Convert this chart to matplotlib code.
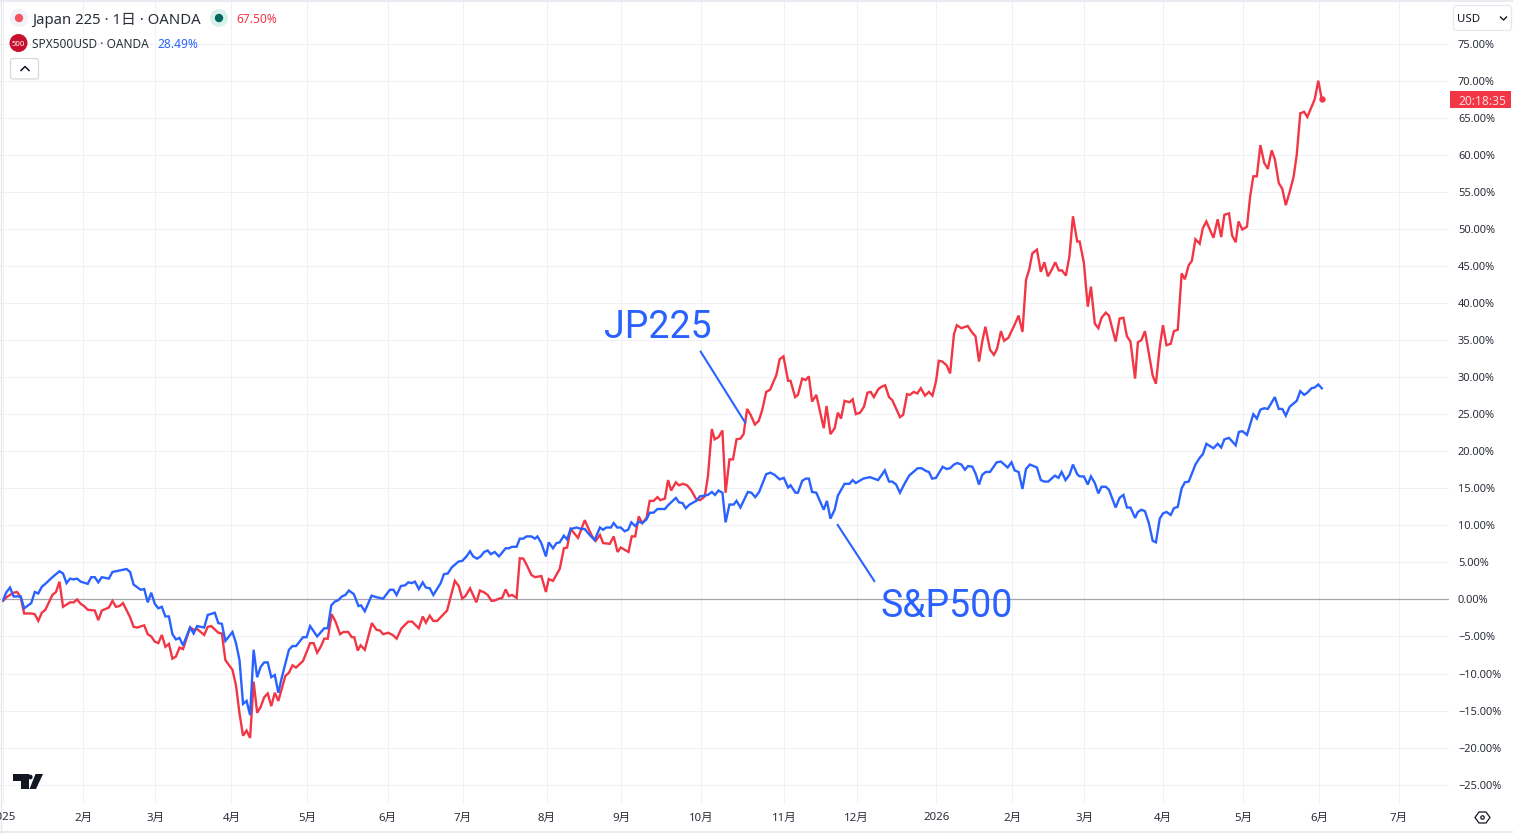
import matplotlib
matplotlib.use("Agg")
import matplotlib.pyplot as plt
from matplotlib.patches import Circle, FancyBboxPatch, Polygon, Rectangle

W, H = 1513, 834
RED = "#f23645"
BLUE = "#2962ff"
INK = "#131722"
GRID = "#f0f1f4"
FONT = ["Noto Sans", "Noto Sans CJK JP", "DejaVu Sans"]

# Return since the first session, in percent, against the session index.
spx_x = [0,1,2,3,5,6,8,9,10,11, 12,14,16,17,18,19,20,21,22,24,
         25,26,27,28,30,31,32,35,36,37, 39,40,41,42,43,44,45,46,47,48,
         49,50,51,53,54,55,57,58,60,61, 62,63,65,66,67,68,69,70,71,72,
         73,74,75,76,77,78,79,81,82,83, 85,86,87,89,91,92,93,94,95,96,
         97,98,
         99.4,100.7,101.4,102.5,104.4,105.8,107.7,109.6,110.6,111.5,
         112.7,113.9,114.8,115.8,116.7,117.8,118.9,119.8,120.9,121.9,
         124.0,124.9,126.0,127.1,129.0,130.1,131.3,132.3,133.2,134.3,
         135.3,136.3,137.3,138.2,139.3,140.5,142.4,143.3,144.2,145.5,
         146.4,147.4,148.3,149.7,150.7,151.4,152.5,153.8,154.6,155.8,
         156.8,157.7,158.9,159.8,160.8,162.5,163.9,164.8,166.0,167.6,
         169.1,170.0,170.9,172.2,173.0,174.0,175.0,176.1,177.1,178.0,
         179.1,180.1,181.1,182.3,183.2,184.3,185.4,187.5,188.4,190.6,
         191.5,192.5,193.4,194.5,196.4,197.4,199.7,200.8,201.7,202.7,
         203.8,204.7,205.8,207.0,207.8,208.9,211.0,212.0,213.1,214.2,
         216.2,217.4,218.6,220.0,221.2,222.4,223.1,224.5,225.2,226.4,
         227.4,228.3,229.2,230.4,232.5,233.4,234.4,235.6,236.5,238.4,
         239.8,240.7,241.6,243.7,245.6,247.9,249.8,251.0,251.9,253.0,
         254.1,255.5,256.7,257.9,259.1,260.2,261.6,262.3,263.2,264.3,
         266.2,267.3,268.3,269.4,270.3,271.5,272.5,273.4,274.6,275.5,
         276.5,277.4,278.4,279.6,281.5,282.7,284.6,285.7,286.6,287.7,
         288.8,289.8,290.9,292.9,294.0,295.0,296.1,298.0,299.0,299.9,
         301.0,302.1,303.1,304.3,305.0,306.2,307.3,308.2,309.3,310.3,
         311.2,312.4,313.3,315.2,316.3,317.4,318.4,319.4,320.7,321.5,
         322.5,323.5,324.6,325.7,326.6,327.7,328.6,329.6,330.8,331.7,
         332.8,333.9,334.8,335.9,337.8,339.0,339.9,340.9,342.9,344.1,
         345.1,346.0,347.3,349.2,350.1,351.1,352.4,354.2,355.2,356.2,
         357.3,358.3,360.3,361.4,362.4,363.4,364.5,366.5,367.5,368.6,
         369.5,370.7,371.6,372.6,373.6]
spx_v = [-0.1,1.0,1.6,0.4,0.4,-1.2,-0.5,1.0,0.8,1.7, 2.1,3.0,3.8,3.5,2.2,2.8,2.7,2.8,2.4,2.1,
         3.0,3.0,2.3,3.0,2.8,3.7,3.8,4.1,3.7,2.0, 1.3,1.4,-0.4,0.9,-0.6,-1.2,-1.0,-2.3,-2.3,-4.7,
         -5.4,-5.2,-6.2,-3.8,-4.6,-3.6,-3.8,-2.1,-1.8,-3.2, -3.3,-5.6,-4.4,-5.9,-8.2,-14.1,-13.7,-15.6,-6.8,-10.5,
         -9.1,-8.5,-8.5,-10.5,-10.2,-12.6,-10.5,-6.8,-6.3,-6.3, -5.1,-5.1,-3.6,-5.0,-3.9,-3.9,-0.8,-0.3,-0.1,0.4,
         0.6,1.2,
         0.7,-0.9,-0.8,-1.6,0.5,0.3,0.1,1.3,1.3,0.6,
         1.8,1.9,2.3,2.2,2.4,1.4,2.3,1.6,1.5,0.6,
         2.2,3.4,3.5,4.3,5.1,5.2,5.8,6.5,5.8,5.5,
         5.8,6.4,6.6,6.1,6.4,5.8,6.9,6.9,7.1,7.1,
         8.2,8.2,8.5,8.5,8.2,8.5,7.6,5.8,7.7,6.9,
         7.6,7.7,8.6,8.1,9.5,9.7,9.5,9.5,8.8,8.0,
         9.7,9.4,9.7,9.7,10.3,9.7,9.7,9.2,9.4,10.4,
         9.9,10.5,10.3,10.8,11.7,11.7,12.2,12.2,12.7,13.7,
         13.1,13.0,12.3,12.8,13.3,13.9,14.1,14.5,14.1,14.7,
         14.4,10.4,12.8,12.8,13.3,12.4,14.5,14.4,13.8,14.5,
         16.9,17.1,16.8,16.2,16.4,15.1,15.4,14.4,14.4,16.0,
         16.3,16.3,14.5,14.4,12.1,13.3,10.9,12.1,14.0,15.6,
         15.6,16.1,15.7,16.3,16.5,16.1,17.4,15.9,15.9,15.5,
         14.4,15.7,16.7,17.2,17.7,17.7,17.3,17.2,16.3,16.4,
         17.9,17.6,17.7,18.2,18.4,18.2,17.5,18.0,17.9,17.0,
         15.5,16.8,17.2,17.2,18.5,18.6,17.8,18.5,17.4,17.2,
         14.9,17.6,18.2,17.8,16.1,15.9,15.9,16.7,16.4,17.2,
         16.1,16.8,18.2,16.9,16.6,16.6,15.5,16.6,15.7,14.3,
         15.2,15.2,14.8,12.4,13.7,14.1,12.4,12.4,11.0,11.8,
         12.1,11.9,10.3,7.9,7.7,10.9,11.6,11.8,11.4,12.3,
         12.5,15.0,15.8,15.9,18.2,19.1,19.6,21.0,20.4,21.0,
         20.5,21.6,21.8,20.8,22.6,22.7,22.2,25.0,24.4,25.6,
         25.8,25.7,27.3,25.7,25.7,24.8,26.0,26.8,28.1,27.6,
         27.9,28.5,28.6,29.0,28.49]

jp_x = [0,1,3,4,5,6,8,9,10,11, 12,14,15,16,17,19,20,21,22,23,
        24,26,27,28,30,31,32,33,34,36, 37,38,40,41,42,43,44,45,46,47,
        48,49,50,51,53,54,55,57,58,59, 61,62,63,65,66,67,68,69,70,71,
        72,73,74,75,76,77,78,79,80,81, 82,83,85,86,87,88,89,90,91,92,
        93.1,94.2,95.5,96.4,97.8,98.8,99.5,100.5,101.3,102.5,
        104.5,105.8,106.8,107.7,109.1,110.4,111.5,112.9,114.8,115.9,
        117.8,118.9,119.8,120.9,121.9,123.0,125.8,128.0,129.1,130.1,
        131.0,132.3,134.1,135.1,136.3,137.3,138.4,139.3,140.5,141.4,
        142.4,143.3,144.2,145.5,146.4,147.4,148.3,149.7,150.7,152.5,
        153.8,154.6,155.8,157.7,158.9,159.8,160.8,162.9,164.8,166.0,
        166.9,167.9,169.1,170.0,171.9,173.0,174.1,175.0,177.2,178.1,
        179.1,180.1,181.1,182.3,183.2,184.3,185.4,186.2,187.5,188.4,
        189.3,190.6,191.5,192.6,193.8,195.0,196.4,197.5,198.8,199.7,
        200.8,201.6,202.7,203.8,204.7,205.8,206.8,207.8,208.9,209.8,
        210.8,211.8,213.0,214.1,215.1,216.2,217.3,219.1,220.0,221.1,
        222.4,223.1,224.4,225.2,226.4,227.4,228.3,229.2,230.4,232.5,
        233.3,234.4,235.6,236.5,237.4,238.4,239.8,240.7,241.6,242.8,
        243.9,244.9,245.8,246.7,248.0,248.9,249.9,251.0,251.9,254.1,
        255.0,256.1,256.9,258.0,259.0,260.0,261.2,262.3,263.3,264.3,
        265.1,266.1,267.3,268.3,269.4,270.2,271.5,273.3,274.4,275.5,
        276.5,277.4,278.3,279.6,280.7,281.6,282.7,283.6,284.8,286.6,
        287.7,288.8,289.8,290.7,291.6,292.9,294.0,295.0,296.0,297.0,
        298.1,299.1,300.0,301.1,302.1,303.1,304.3,305.0,306.2,307.3,
        308.2,309.3,310.3,311.2,312.4,313.3,315.2,316.3,317.4,318.4,
        319.4,320.7,321.5,322.5,323.5,325.7,326.6,327.7,328.6,329.6,
        330.8,331.7,332.8,333.9,334.8,335.9,336.8,337.8,339.0,339.9,
        340.9,342.9,344.1,345.1,346.0,347.3,348.2,349.2,350.0,351.1,
        352.4,353.3,354.2,355.2,356.2,357.3,358.3,359.4,360.3,361.4,
        362.4,363.4,364.5,365.6,366.5,367.5,368.6,369.5,371.6,372.6,
        373.6]
jp_v = [-0.2,0.3,0.9,1.0,0.3,-1.9,-1.9,-2.0,-2.9,-1.8, -1.4,0.6,1.0,2.4,-1.0,-0.4,-0.4,0.0,-0.6,-0.9,
        -1.4,-1.5,-2.8,-1.5,-1.1,-0.2,-1.0,-0.9,-0.5,-2.4, -3.7,-3.8,-3.5,-4.7,-5.0,-5.7,-5.9,-4.8,-6.4,-6.0,
        -8.0,-7.7,-6.5,-6.7,-3.8,-4.1,-4.0,-4.8,-3.7,-3.6, -4.5,-4.6,-8.2,-9.5,-11.6,-15.4,-18.4,-17.7,-18.7,-11.1,
        -15.3,-14.5,-13.2,-12.7,-14.4,-12.6,-13.7,-12.0,-10.3,-9.9, -8.9,-9.2,-8.3,-7.1,-5.9,-5.9,-7.2,-6.4,-5.3,-5.3,
        -2.0,-3.0,-4.7,-4.4,-4.4,-5.1,-5.1,-6.9,-6.2,-6.8,
        -3.2,-4.1,-4.2,-4.7,-4.5,-4.8,-5.3,-3.9,-3.0,-3.0,
        -3.9,-2.3,-3.15,-2.2,-2.9,-2.9,-1.5,2.5,1.8,0.1,
        0.45,1.5,-0.4,1.2,0.95,0.6,-0.2,-0.15,0.1,0.2,
        1.35,0.45,0.6,0.2,5.55,5.5,4.7,3.3,3.0,3.15,
        1.0,2.75,2.5,4.1,6.9,7.0,9.5,8.3,10.7,9.4,
        8.5,7.9,8.7,7.6,7.5,8.5,6.4,7.0,6.4,8.5,
        8.5,11.2,10.3,11.0,13.3,13.3,13.8,13.4,13.6,16.1,
        14.7,15.8,15.4,15.6,15.4,14.7,13.5,13.4,13.9,16.6,
        23.0,21.6,21.9,22.8,14.4,18.9,18.9,21.6,21.7,22.3,
        25.7,24.9,23.6,24.1,25.6,28.0,28.3,30.3,32.4,32.8,
        29.5,29.5,27.3,27.6,29.8,29.6,30.1,26.7,27.6,23.1,
        26.1,22.3,23.1,25.2,24.4,26.8,26.6,27.0,25.0,25.2,
        26.0,27.9,28.0,27.3,28.4,28.7,28.9,27.3,26.9,24.6,
        24.9,27.7,27.6,28.0,27.8,28.5,27.5,28.0,27.5,29.4,
        32.2,32.1,31.6,30.5,35.8,37.0,36.6,36.9,36.1,35.5,
        32.1,34.8,36.8,33.7,33.0,33.8,36.2,34.9,35.3,37.1,
        38.3,36.1,43.1,44.5,46.7,47.2,44.2,45.5,43.6,44.4,
        45.5,44.4,44.4,43.7,46.3,51.7,48.3,48.3,45.4,39.5,
        42.2,37.2,36.6,38.0,38.7,38.3,34.8,37.9,38.0,35.5,
        34.8,29.8,34.7,35.0,36.2,30.2,29.1,34.1,37.0,34.3,
        34.5,36.2,36.4,44.0,43.2,45.1,45.7,48.6,48.0,50.1,
        51.0,48.8,51.3,48.9,51.9,52.1,49.1,48.2,51.0,49.9,
        50.3,54.4,57.1,57.1,61.3,58.9,58.1,60.6,59.4,56.2,
        55.4,53.2,55.0,57.0,60.0,65.6,65.8,65.1,67.5,70.0,
        67.5]

month_pos = [0,22.7,43.1,64.7,86.2,109,130.2,154,175.2,197.8,221.3,241.8,264.4,285.9,306.3,328.7,351.4,372.8,395.4]
month_labels = ["2025","2月","3月","4月","5月","6月","7月","8月","9月","10月","11月","12月",
                "2026","2月","3月","4月","5月","6月","7月"]
pct_ticks = list(range(-25, 80, 5))
countdown = "20:18:35"
jp_name = "Japan 225 · 1日 · OANDA"
spx_name = "SPX500USD · OANDA"

fig = plt.figure(figsize=(W / 100, H / 100), dpi=100, facecolor="white")

# Price pane: session index across, percent up; the limits set 3.53 px per session.
pane_left, pane_right, pane_top, pane_bottom = 0, 1449, 2, 803
ax = fig.add_axes([pane_left / W, 1 - pane_bottom / H,
                   (pane_right - pane_left) / W, (pane_bottom - pane_top) / H])
ax.set_xlim(-3 / 3.53, (pane_right - 3) / 3.53)
ax.set_ylim((599.4 - pane_bottom) / 7.41, (599.4 - pane_top) / 7.41)
for side in ax.spines.values():
    side.set_visible(False)
ax.set_xticks(month_pos)
ax.set_yticks(pct_ticks)
ax.tick_params(length=0, labelbottom=False, labelleft=False)
ax.grid(True, color=GRID, lw=0.72)
ax.set_axisbelow(True)
ax.axhline(0, color="#a3a6af", lw=0.9, zorder=1.5)
ax.plot(jp_x, jp_v, color=RED, lw=1.7, solid_joinstyle="miter", zorder=3)
ax.plot(spx_x, spx_v, color=BLUE, lw=1.7, solid_joinstyle="miter", zorder=4)
ax.plot(jp_x[-1], jp_v[-1], "o", color=RED, ms=4.6, mew=0, zorder=5)

# Overlay in screen pixels for the chrome around the pane.
ui = fig.add_axes([0, 0, 1, 1], facecolor="none")
ui.set_xlim(0, W)
ui.set_ylim(H, 0)
ui.axis("off")


def label(x, y, s, px, color=INK, ha="left", va="center", family=FONT, **kw):
    ui.text(x, y, s, fontsize=px * 0.72, color=color, ha=ha, va=va, family=family, **kw)


# Borders of the widget
ui.plot([0, W], [0.8, 0.8], color="#e6e8ed", lw=1.2)
ui.plot([0, W], [831.5, 831.5], color="#e6e8ed", lw=1.2)
ui.plot([0.5, 0.5], [0, H], color="#e6e8ed", lw=1.0)

# Percent scale
for v in pct_ticks:
    text = f"{v:.2f}%".replace("-", "\u2212")
    y = 599.4 - v * 7.41
    label(1458, y, text, 11, color="#2a2e39", va="center_baseline")

# Time scale
for pos, name in zip(month_pos, month_labels):
    bold = name in ("2025", "2026")
    label(3 + pos * 3.53, 816.5, name, 11.5, color="#2a2e39", ha="center",
          va="center_baseline", fontweight="bold" if bold else "normal")

# Legend rows
ui.add_patch(Circle((19, 18), 9, color="#f0f3fa", lw=0))
ui.add_patch(Circle((19, 18), 4.2, color="#f7525f", lw=0))
label(32, 18, jp_name, 14.9, color="#2a2e39", va="center_baseline")
ui.add_patch(Circle((219, 18), 9, color="#daf0ea", lw=0))
ui.add_patch(Circle((219, 18), 4.2, color="#00695c", lw=0))
label(236, 18, f"{jp_v[-1]:.2f}%", 12, color=RED, va="center_baseline")

ui.add_patch(Circle((18.5, 43), 9, color="#c8102e", lw=0))
ui.text(18.5, 43, "500", fontsize=5.6, color="white", ha="center", va="center_baseline",
        fontweight="bold", family=FONT)
label(32, 43, spx_name, 11.9, color="#2a2e39", va="center_baseline")
label(157, 43, f"{spx_v[-1]:.2f}%", 12, color=BLUE, va="center_baseline")

# Collapse button
ui.add_patch(FancyBboxPatch((10.5, 58.5), 28, 20.5, boxstyle="round,pad=0,rounding_size=2.5",
                            fc="white", ec="#d6d8de", lw=0.9))
ui.plot([21, 25, 29], [70.5, 66.5, 70.5], color=INK, lw=1.1)

# Currency selector
ui.add_patch(FancyBboxPatch((1453.5, 5.5), 58, 25, boxstyle="round,pad=0,rounding_size=3",
                            fc="white", ec="#e6e8ed", lw=0.9, clip_on=False))
label(1457, 17.5, "USD", 11.5, color=INK, va="center_baseline")
ui.plot([1500.5, 1503.5, 1506.5], [17, 20, 17], color=INK, lw=1.0)

# Countdown tag on the scale
ui.add_patch(Rectangle((1450, 91), 61, 17, color=RED, lw=0))
label(1458, 99.5, countdown, 12, color="#ffd9dc", va="center_baseline")

# Wordmark
ui.add_patch(Polygon([(13, 774), (29, 774), (29, 789), (21, 789), (21, 781), (13, 781)], color=INK, lw=0))
ui.add_patch(Circle((30.2, 777), 2.4, color=INK, lw=0))
ui.add_patch(Polygon([(35.5, 774), (43, 774), (36, 789), (29.5, 789)], color=INK, lw=0))

# Settings hexagon
ui.add_patch(Polygon([(1475, 817.5), (1479, 812), (1486, 812), (1490, 817.5), (1486, 823), (1479, 823)],
                     fc="none", ec=INK, lw=0.9))
ui.add_patch(Circle((1482.5, 817.5), 1.7, fc="none", ec=INK, lw=0.9))

# Hand-drawn callouts
ui.plot([700.7, 745], [351.7, 422.3], color=BLUE, lw=1.5)
ui.plot([837.7, 874.3], [525, 581], color=BLUE, lw=1.5)
label(604, 337.7, "JP225", 37.5, color=BLUE, va="baseline", family=["Roboto"])
label(881, 616.7, "S&P500", 37.5, color=BLUE, va="baseline", family=["Roboto"])

fig.savefig("out.png", dpi=100, facecolor="white")
